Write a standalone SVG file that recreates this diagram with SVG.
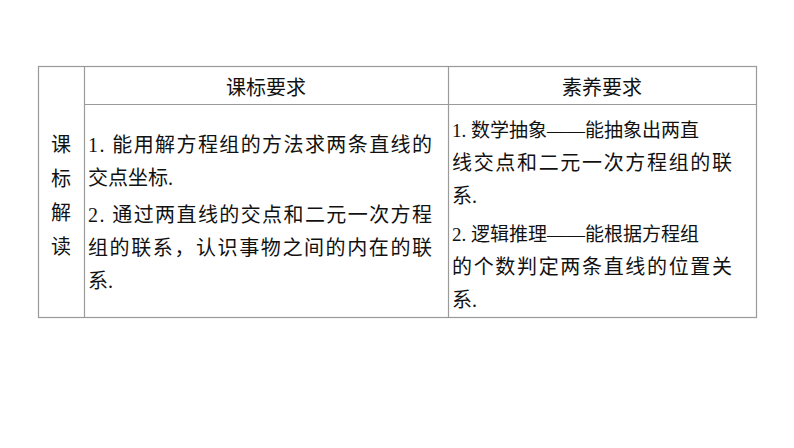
<svg xmlns="http://www.w3.org/2000/svg" width="794" height="448" viewBox="0 0 794 448">
<style>
.l{stroke:#9a9a9a;stroke-width:1.2;fill:none}
text{font-family:"Liberation Serif","Noto Sans CJK SC",serif;font-size:20px;fill:#111}
</style>
<rect width="794" height="448" fill="#fff"/>
<g id="grid">
<rect class="l" x="38.5" y="66.5" width="718" height="251"/>
<line class="l" x1="84.5" y1="66.5" x2="84.5" y2="317.5"/>
<line class="l" x1="448.5" y1="66.5" x2="448.5" y2="317.5"/>
<line class="l" x1="84.5" y1="104.5" x2="756.5" y2="104.5"/>
</g>
<g id="side"><text x="61" y="152" text-anchor="middle">课</text><text x="61" y="186" text-anchor="middle">标</text><text x="61" y="220" text-anchor="middle">解</text><text x="61" y="254" text-anchor="middle">读</text></g>
<g id="h1"><text x="266" y="95" text-anchor="middle">课标要求</text></g>
<g id="h2"><text x="602" y="95" text-anchor="middle">素养要求</text></g>
<g id="c1">
<text x="88" y="152" textLength="344">1. 能用解方程组的方法求两条直线的</text>
<text x="88" y="185">交点坐标.</text>
<text x="88" y="222" textLength="344">2. 通过两直线的交点和二元一次方程</text>
<text x="88" y="255" textLength="344">组的联系，认识事物之间的内在的联</text>
<text x="88" y="288">系.</text>
</g>
<g id="c2">
<text x="452" y="137" style="font-size:19px">1. 数学抽象——能抽象出两直</text>
<text x="452" y="170" textLength="280">线交点和二元一次方程组的联</text>
<text x="452" y="203">系.</text>
<text x="452" y="241" style="font-size:19px">2. 逻辑推理——能根据方程组</text>
<text x="452" y="274" textLength="280">的个数判定两条直线的位置关</text>
<text x="452" y="307">系.</text>
</g>
</svg>
